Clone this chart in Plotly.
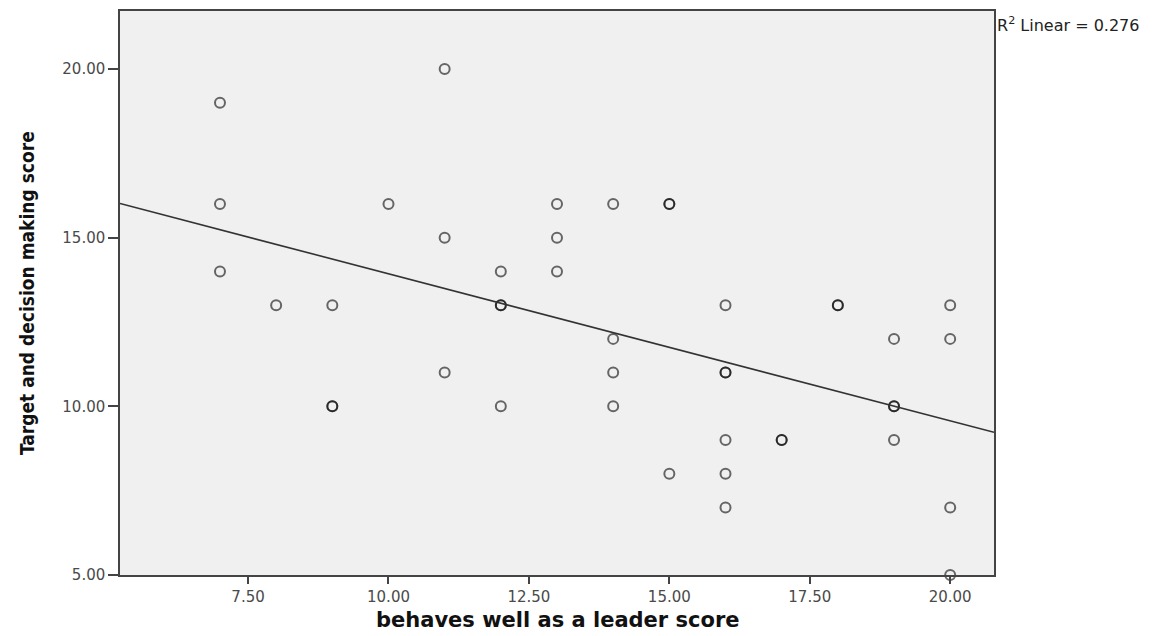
import numpy as np
import plotly.graph_objects as go

# Data (duplicates shown darker in the original)
leader_score = [7, 7, 7, 8, 9, 9, 9, 10, 11, 11, 11, 12, 12, 12, 12,
                13, 13, 13, 14, 14, 14, 14, 15, 15, 15,
                16, 16, 16, 16, 16, 16, 17, 17, 18, 18,
                19, 19, 19, 19, 20, 20, 20, 20]
target_score = [19, 16, 14, 13, 13, 10, 10, 16, 20, 15, 11, 14, 13, 13, 10,
                16, 15, 14, 16, 12, 11, 10, 16, 16, 8,
                13, 11, 11, 9, 8, 7, 9, 9, 13, 13,
                12, 10, 10, 9, 13, 12, 7, 5]

fit_intercept = 18.29
fit_slope = -0.436
r2_text = "R<sup>2</sup> Linear = 0.276"
x_title = "behaves well as a leader score"
y_title = "Target and decision making score"

x_range = [5.22, 20.78]
y_range = [5.0, 21.72]
x_ticks = [7.5, 10.0, 12.5, 15.0, 17.5, 20.0]
y_ticks = [5.0, 10.0, 15.0, 20.0]

fig = go.Figure()
fig.add_trace(go.Scatter(
    x=leader_score, y=target_score, mode="markers",
    marker=dict(symbol="circle-open", size=10, color="rgba(0,0,0,0.58)",
                line=dict(width=2, color="rgba(0,0,0,0.58)")),
    showlegend=False, cliponaxis=False))

lx = np.array(x_range)
fig.add_trace(go.Scatter(
    x=lx, y=fit_intercept + fit_slope * lx, mode="lines",
    line=dict(color="#333333", width=1.6), showlegend=False))

axis_common = dict(showgrid=False, zeroline=False, showline=True, linecolor="#444444",
                   linewidth=1.5, mirror=True, ticks="outside",
                   tickcolor="#444444", tickwidth=1.5,
                   tickfont=dict(family="DejaVu Sans", size=15, color="#4a4a4a"))

fig.update_xaxes(range=x_range, tickvals=x_ticks, ticklen=7,
                 ticktext=[f"{v:.2f}" for v in x_ticks], **axis_common)
fig.update_yaxes(range=y_range, tickvals=y_ticks, ticklen=10,
                 ticktext=[f"{v:.2f}" for v in y_ticks], **axis_common)

fig.add_annotation(x=0.5, y=0, xref="paper", yref="paper", xanchor="center", yanchor="middle",
                   yshift=-45, showarrow=False, text="<b>" + x_title + "</b>",
                   font=dict(family="DejaVu Sans", size=21, color="#111111"))
fig.add_annotation(x=0, y=0.5, xref="paper", yref="paper", xanchor="center", yanchor="middle",
                   xshift=-93, textangle=-90, showarrow=False, text="<b>" + y_title + "</b>",
                   font=dict(family="DejaVu Sans Condensed, Liberation Sans Narrow, Liberation Sans, sans-serif",
                             size=19, color="#111111"))

fig.add_annotation(x=1.0, y=1.0, xref="paper", yref="paper", xanchor="left", yanchor="top",
                   text=r2_text, showarrow=False, xshift=1, yshift=-1,
                   font=dict(family="DejaVu Sans", size=16, color="#222222"))

fig.update_layout(width=1145, height=628, plot_bgcolor="#f0f0f0", paper_bgcolor="white",
                  margin=dict(l=112, r=159, t=1, b=61))

fig.write_html("out.html")
